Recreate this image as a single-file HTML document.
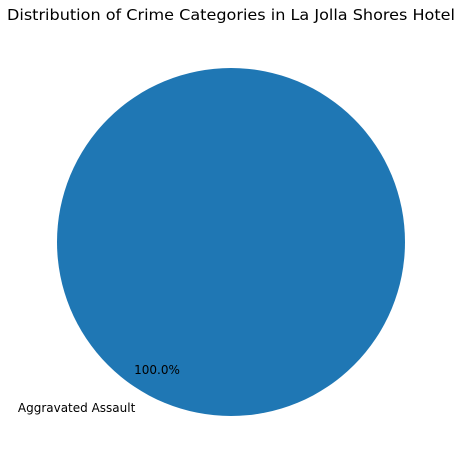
<!DOCTYPE html>
<html><head><meta charset="utf-8"><style>
html,body{margin:0;padding:0;background:#fff;}
svg{display:block;font-family:"DejaVu Sans","Liberation Sans",sans-serif;}
</style></head><body>
<svg id="chart" width="462" height="467" viewBox="0 0 462 467" xmlns="http://www.w3.org/2000/svg">
<text x="231" y="20" text-anchor="middle" font-size="15" textLength="448" lengthAdjust="spacingAndGlyphs" fill="#000">Distribution of Crime Categories in La Jolla Shores Hotel</text>
<g id="slices"></g>
</svg>
<script>
const categories = ["Aggravated Assault"];
const values = [1];
const colors = ["#1f77b4"];
const cx = 231, cy = 242, r = 174, startAngle = 60;
const svg = document.getElementById('slices');
const NS = 'http://www.w3.org/2000/svg';
const total = values.reduce((a,b)=>a+b,0);
let ang = startAngle;
values.forEach((v,i)=>{
  const sweep = v/total*360;
  let el;
  if (sweep >= 359.999) {
    el = document.createElementNS(NS,'circle');
    el.setAttribute('cx',cx); el.setAttribute('cy',cy); el.setAttribute('r',r);
  } else {
    const a0 = ang*Math.PI/180, a1 = (ang+sweep)*Math.PI/180;
    const x0 = cx + r*Math.cos(a0), y0 = cy - r*Math.sin(a0);
    const x1 = cx + r*Math.cos(a1), y1 = cy - r*Math.sin(a1);
    el = document.createElementNS(NS,'path');
    el.setAttribute('d',`M${cx},${cy} L${x0},${y0} A${r},${r} 0 ${sweep>180?1:0} 0 ${x1},${y1} Z`);
  }
  el.setAttribute('fill',colors[i%colors.length]);
  
  
  svg.appendChild(el);
  const mid = (ang + sweep/2)*Math.PI/180;
  const lx = cx + 1.1*r*Math.cos(mid), ly = cy - 1.1*r*Math.sin(mid);
  const lab = document.createElementNS(NS,'text');
  lab.setAttribute('x',lx); lab.setAttribute('y',ly+4);
  lab.setAttribute('text-anchor', Math.cos(mid)<0?'end':'start');
  lab.setAttribute('font-size','12');
  lab.textContent = categories[i];
  
  
  svg.appendChild(lab);
  const px = cx + 0.85*r*Math.cos(mid), py = cy - 0.85*r*Math.sin(mid);
  const pct = document.createElementNS(NS,'text');
  pct.setAttribute('x',px); pct.setAttribute('y',py+4);
  pct.setAttribute('text-anchor','middle');
  pct.setAttribute('font-size','12');
  pct.textContent = (v/total*100).toFixed(1)+'%';
  
  
  svg.appendChild(pct);
  ang += sweep;
});
</script>
</body></html>
